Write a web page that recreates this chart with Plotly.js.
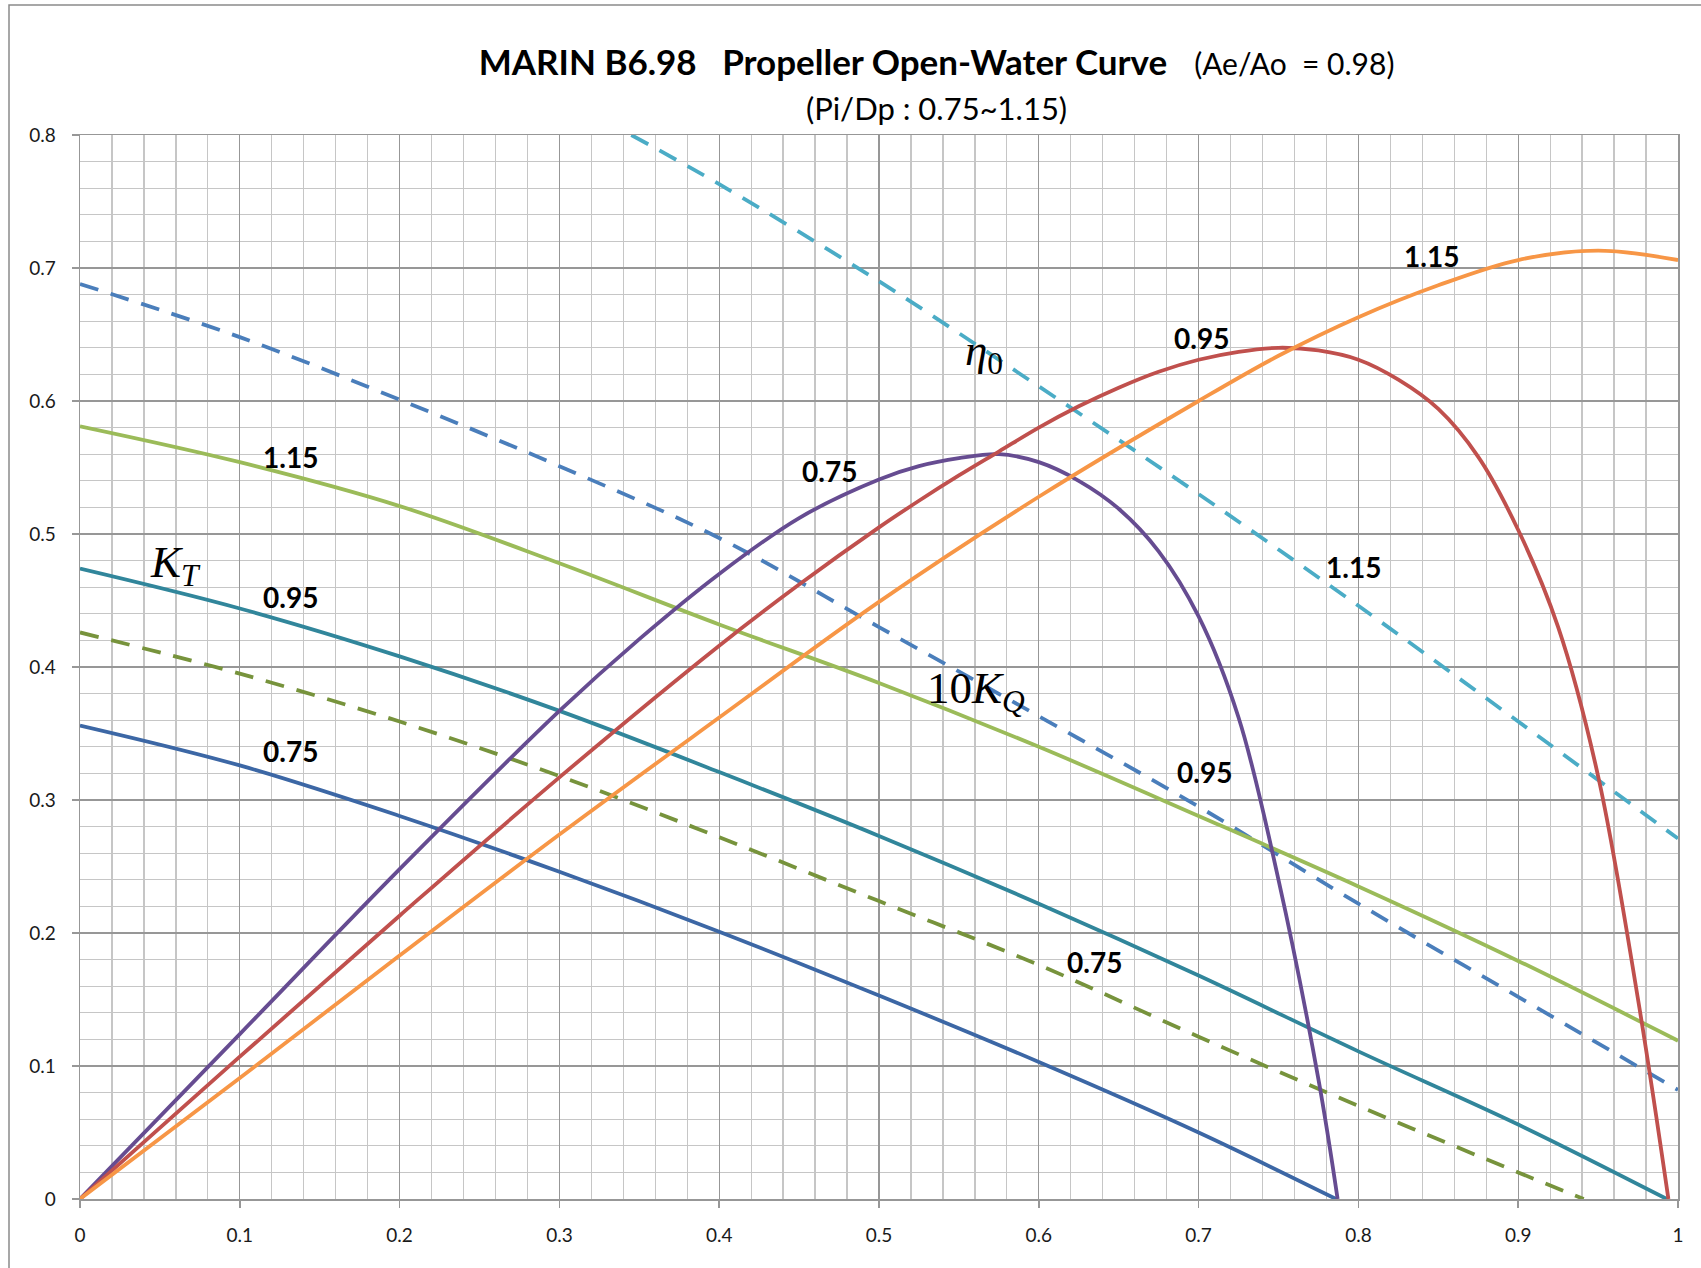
<!DOCTYPE html>
<html>
<head>
<meta charset="utf-8">
<script src="https://cdn.plot.ly/plotly-3.0.1.min.js"></script>
<style>
html,body{margin:0;padding:0;background:#fff;}
#chart{width:1701px;height:1268px;}
</style>
</head>
<body>
<div id="chart"></div>
<script>
// ---- Data (J = advance ratio) ----
// KT curves (solid)
const kt075_x = [0, 0.1, 0.2, 0.3, 0.4, 0.5, 0.6, 0.7, 0.786];
const kt075_y = [0.356, 0.326, 0.288, 0.246, 0.201, 0.153, 0.103, 0.050, 0];
const kt095_x = [0, 0.1, 0.2, 0.3, 0.4, 0.5, 0.6, 0.7, 0.8, 0.9, 0.993];
const kt095_y = [0.474, 0.444, 0.408, 0.367, 0.321, 0.273, 0.222, 0.168, 0.111, 0.056, 0];
const kt115_x = [0, 0.1, 0.2, 0.3, 0.4, 0.5, 0.6, 0.7, 0.8, 0.9, 1.0];
const kt115_y = [0.581, 0.554, 0.521, 0.478, 0.432, 0.388, 0.340, 0.288, 0.235, 0.179, 0.119];
// 10KQ curves (dashed)
const kq075_x = [0, 0.1, 0.2, 0.3, 0.4, 0.5, 0.6, 0.7, 0.8, 0.9, 0.941];
const kq075_y = [0.426, 0.395, 0.359, 0.318, 0.272, 0.224, 0.176, 0.122, 0.070, 0.020, 0];
const kq095_x = [0, 0.1, 0.2, 0.3, 0.4, 0.5, 0.6, 0.7, 0.8, 0.9, 1.0];
const kq095_y = [0.688, 0.648, 0.601, 0.551, 0.497, 0.430, 0.363, 0.295, 0.222, 0.152, 0.082];
const kq115_x = [0.345, 0.4, 0.5, 0.6, 0.7, 0.8, 0.9, 1.0];
const kq115_y = [0.800, 0.763, 0.690, 0.611, 0.530, 0.446, 0.359, 0.271];
// eta0 curves (solid)
const eta075_x = [0, 0.1, 0.2, 0.3, 0.35, 0.4, 0.45, 0.5, 0.525, 0.55, 0.575, 0.6, 0.625, 0.65, 0.675, 0.7, 0.725, 0.75, 0.775, 0.787];
const eta075_y = [0, 0.124, 0.248, 0.367, 0.421, 0.470, 0.512, 0.541, 0.551, 0.557, 0.560, 0.554, 0.540, 0.519, 0.487, 0.438, 0.362, 0.240, 0.090, 0];
const eta095_x = [0, 0.1, 0.2, 0.3, 0.4, 0.45, 0.5, 0.525, 0.55, 0.575, 0.6, 0.625, 0.65, 0.675, 0.7, 0.725, 0.75, 0.775, 0.8, 0.825, 0.85, 0.875, 0.9, 0.925, 0.95, 0.975, 0.994];
const eta095_y = [0, 0.107, 0.213, 0.317, 0.416, 0.462, 0.505, 0.525, 0.544, 0.562, 0.580, 0.596, 0.610, 0.622, 0.631, 0.637, 0.640, 0.638, 0.631, 0.616, 0.594, 0.558, 0.503, 0.430, 0.318, 0.150, 0];
const eta115_x = [0, 0.1, 0.2, 0.3, 0.4, 0.5, 0.6, 0.7, 0.75, 0.8, 0.85, 0.9, 0.95, 1.0];
const eta115_y = [0, 0.091, 0.183, 0.274, 0.362, 0.449, 0.528, 0.600, 0.634, 0.663, 0.687, 0.706, 0.713, 0.706];

// Tick values / labels
const xTicks = [0, 0.1, 0.2, 0.3, 0.4, 0.5, 0.6, 0.7, 0.8, 0.9, 1];
const xTickText = ["0", "0.1", "0.2", "0.3", "0.4", "0.5", "0.6", "0.7", "0.8", "0.9", "1"];
const yTicks = [0, 0.1, 0.2, 0.3, 0.4, 0.5, 0.6, 0.7, 0.8];
const yTickText = ["0", "0.1", "0.2", "0.3", "0.4", "0.5", "0.6", "0.7", "0.8"];

// Curve labels: [text, x, y]
const curveLabels = [
  ["1.15", 0.132, 0.558], ["0.95", 0.132, 0.453], ["0.75", 0.132, 0.337],
  ["0.75", 0.469, 0.547], ["0.95", 0.702, 0.647], ["1.15", 0.846, 0.709],
  ["1.15", 0.797, 0.475], ["0.95", 0.704, 0.321], ["0.75", 0.635, 0.178]
];
const symbolLabels = [
  ["<i>K</i><sub><i>T</i></sub>", 0.060, 0.477],
  ["<i>η</i><sub>0</sub>", 0.566, 0.636],
  ["10<i>K</i><sub><i>Q</i></sub>", 0.561, 0.382]
];

const W = 3.8;
const DASH = "19px,13px";
function tr(x, y, color, dash) {
  return {x: x, y: y, type: 'scatter', mode: 'lines',
    line: {color: color, width: W, dash: dash || 'solid', shape: 'spline', smoothing: 1.0},
    hoverinfo: 'skip', showlegend: false};
}
const data = [
  tr(kq075_x, kq075_y, '#77933C', DASH),
  tr(kq095_x, kq095_y, '#4A7EBB', DASH),
  tr(kq115_x, kq115_y, '#4BACC6', DASH),
  tr(kt075_x, kt075_y, '#3C67A5'),
  tr(kt095_x, kt095_y, '#31869B'),
  tr(kt115_x, kt115_y, '#9BBB59'),
  tr(eta075_x, eta075_y, '#664C91'),
  tr(eta095_x, eta095_y, '#C0504D'),
  tr(eta115_x, eta115_y, '#F79646')
];

const annotations = [];
curveLabels.forEach(l => annotations.push({
  text: '<b>' + l[0] + '</b>', x: l[1], y: l[2], xref: 'x', yref: 'y',
  showarrow: false, font: {family: 'Lato, "Open Sans", sans-serif', size: 28, color: '#000'}
}));
symbolLabels.forEach(l => annotations.push({
  text: l[0], x: l[1], y: l[2], xref: 'x', yref: 'y',
  showarrow: false, font: {family: '"Liberation Serif", "DejaVu Serif", serif', size: 45, color: '#000'}
}));

const gridMajor = '#979797', gridMinor = '#c6c6c6';
const tickFont = {family: 'Lato, "Open Sans", sans-serif', size: 19, color: '#1a1a1a'};
const layout = {
  width: 1701, height: 1268,
  paper_bgcolor: '#ffffff', plot_bgcolor: '#ffffff',
  margin: {l: 80, r: 23, t: 135, b: 69},
  title: {
    text: '<b>MARIN B6.98\u00a0\u00a0\u00a0Propeller Open-Water Curve</b>\u00a0\u00a0\u00a0<span style="font-size:30px">(Ae/Ao\u00a0\u00a0= 0.98)</span><br><span style="font-size:31px">(Pi/Dp : 0.75~1.15)</span>',
    font: {family: 'Lato, "Open Sans", sans-serif', size: 35, color: '#000'},
    xref: 'paper', x: 0.536, xanchor: 'center',
    yref: 'container', y: 0.941, yanchor: 'top'
  },
  xaxis: {
    range: [0, 1], tickvals: xTicks, ticktext: xTickText,
    showgrid: true, gridcolor: gridMajor, gridwidth: 1.3,
    minor: {dtick: 0.02, tick0: 0, showgrid: true, gridcolor: gridMinor, gridwidth: 1.3},
    zeroline: false, showline: true, linecolor: gridMajor, linewidth: 1.5, mirror: true,
    ticks: 'outside', ticklen: 7, tickcolor: gridMajor, tickwidth: 1.5,
    tickfont: tickFont, ticklabelstandoff: 12, fixedrange: true
  },
  yaxis: {
    range: [0, 0.8], tickvals: yTicks, ticktext: yTickText,
    showgrid: true, gridcolor: gridMajor, gridwidth: 1.3,
    minor: {dtick: 0.02, tick0: 0, showgrid: true, gridcolor: gridMinor, gridwidth: 1.3},
    zeroline: false, showline: true, linecolor: gridMajor, linewidth: 1.5, mirror: true,
    ticks: 'outside', ticklen: 7, tickcolor: gridMajor, tickwidth: 1.5,
    tickfont: tickFont, ticklabelstandoff: 12, fixedrange: true
  },
  annotations: annotations,
  shapes: [{
    type: 'rect', xref: 'paper', yref: 'paper',
    x0: (9 - 80) / 1598, x1: (1705 - 80) / 1598,
    y0: -(1272 - 1199) / 1064, y1: (1199 - 5) / 1064,
    line: {color: '#8a8a8a', width: 1.5}, fillcolor: 'rgba(0,0,0,0)', layer: 'below'
  }]
};
Plotly.newPlot('chart', data, layout, {staticPlot: true, displayModeBar: false});
</script>
</body>
</html>
